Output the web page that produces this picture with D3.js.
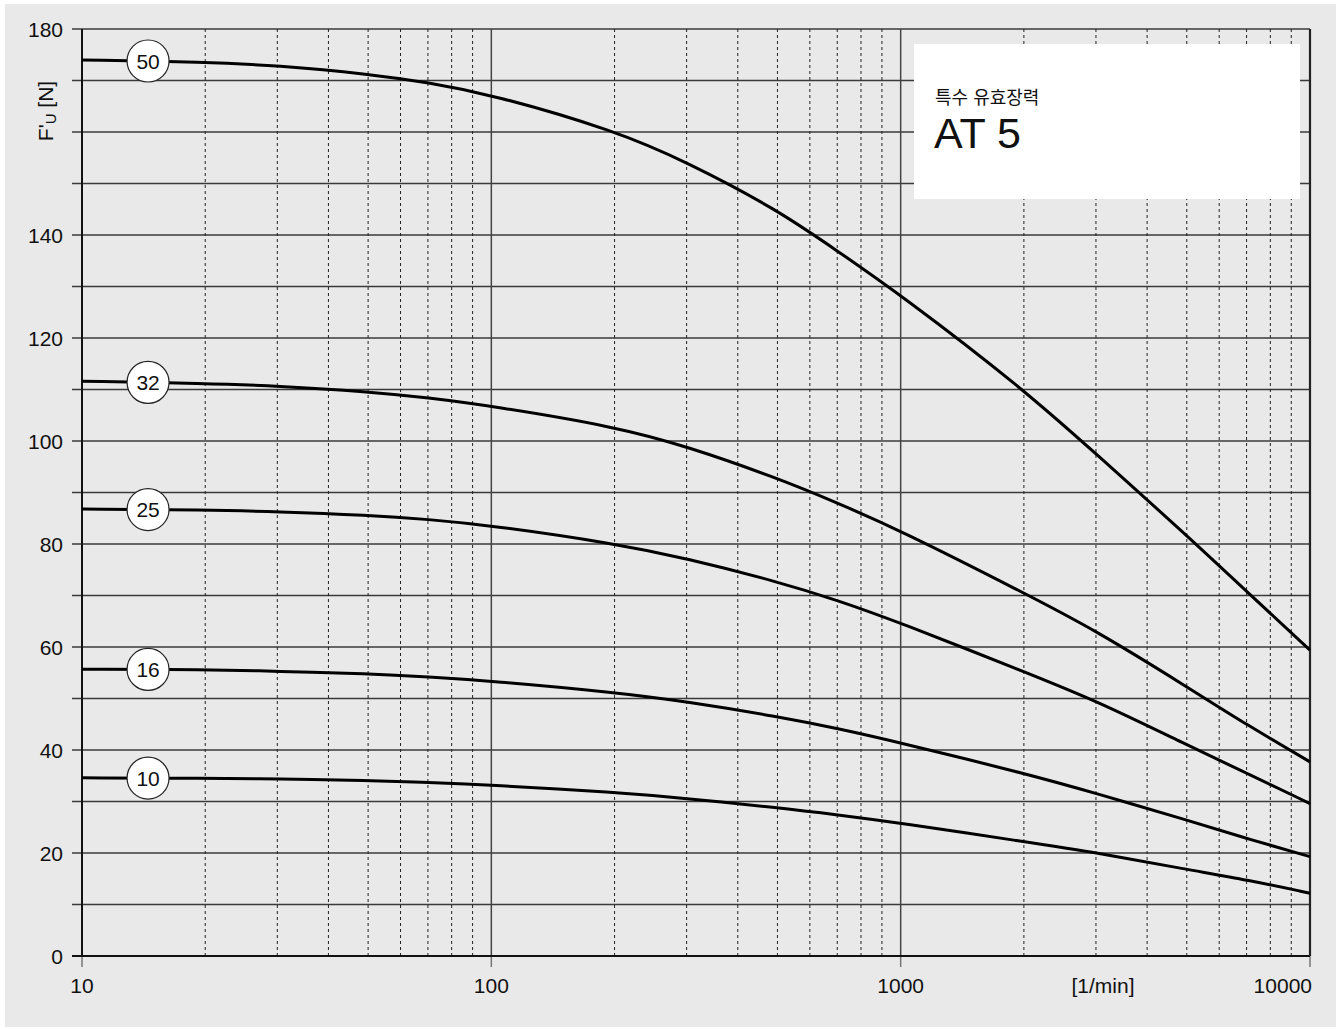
<!DOCTYPE html>
<html lang="ko">
<head>
<meta charset="UTF-8">
<title>AT 5</title>
<script src="https://d3js.org/d3.v7.min.js"></script>
<style>
  body { margin: 0; background: #fff; }
  text { font-family: "Liberation Sans", Arial, sans-serif; fill: #111; }
</style>
</head>
<body>
<script>
    // speed [1/min] and specific effective pull F'U [N] per belt width
    var rpm = [10, 20, 30, 50, 70, 100, 200, 300, 500, 700, 1000, 2000, 3000, 5000, 7000, 10000];
    var belt50 = [174.0, 173.6, 172.9, 171.3, 169.6, 167.3, 160.3, 154.2, 144.9, 136.9, 128.4, 110.0, 97.5, 81.7, 70.8, 59.4];
    var belt32 = [111.6, 111.2, 110.7, 109.6, 108.4, 106.8, 102.8, 99.0, 92.8, 88.0, 82.6, 70.5, 63.2, 52.3, 44.9, 37.7];
    var belt25 = [86.8, 86.6, 86.3, 85.6, 84.8, 83.6, 80.1, 77.2, 72.7, 69.1, 64.7, 55.2, 49.6, 41.0, 35.5, 29.6];
    var belt16 = [55.7, 55.6, 55.3, 54.8, 54.2, 53.4, 51.2, 49.4, 46.5, 44.2, 41.4, 35.5, 31.6, 26.4, 22.8, 19.3];
    var belt10 = [34.6, 34.5, 34.4, 34.1, 33.7, 33.2, 31.8, 30.6, 28.8, 27.4, 25.8, 22.2, 20.1, 16.8, 14.8, 12.2];
    var beltNames = ["50", "32", "25", "16", "10"];
    var yLabelTicks = [0, 20, 40, 60, 80, 100, 120, 140, 180];
    var xLabelTicks = [10, 100, 1000, 10000];
    var labelRpm = 14.5;

    var series = [belt50, belt32, belt25, belt16, belt10];

    var W = 1338, H = 1029;
    var svg = d3.select("body").append("svg")
        .attr("width", W)
        .attr("height", H);

    svg.append("rect")
        .attr("x", 5).attr("y", 4)
        .attr("width", 1331).attr("height", 1023)
        .attr("fill", "#e8e9e8");

    var x = d3.scaleLog().domain([10, 10000]).range([82, 1310]);
    var y = d3.scaleLinear().domain([0, 180]).range([956, 29]);

    // horizontal grid every 10 + little ticks left of the axis
    var hLines = d3.range(10, 181, 10);
    svg.append("g").selectAll("line")
        .data(hLines)
        .enter().append("line")
        .attr("x1", 72).attr("x2", 1310)
        .attr("y1", function (d) { return y(d); })
        .attr("y2", function (d) { return y(d); })
        .attr("stroke", "#3a3a3a")
        .attr("stroke-width", 1.3);

    // minor dashed verticals
    var minors = [];
    [10, 100, 1000].forEach(function (dec) {
        for (var k = 2; k <= 9; k++) minors.push(dec * k);
    });
    svg.append("g").selectAll("line")
        .data(minors)
        .enter().append("line")
        .attr("x1", function (d) { return x(d); })
        .attr("x2", function (d) { return x(d); })
        .attr("y1", y(180)).attr("y2", y(0))
        .attr("stroke", "#222")
        .attr("stroke-width", 1)
        .attr("stroke-dasharray", "3,3");

    // major verticals
    svg.append("g").selectAll("line")
        .data([100, 1000])
        .enter().append("line")
        .attr("x1", function (d) { return x(d); })
        .attr("x2", function (d) { return x(d); })
        .attr("y1", y(180)).attr("y2", y(0))
        .attr("stroke", "#444")
        .attr("stroke-width", 1.5);

    // x ticks below the axis
    svg.append("g").selectAll("line")
        .data(xLabelTicks)
        .enter().append("line")
        .attr("x1", function (d) { return x(d); })
        .attr("x2", function (d) { return x(d); })
        .attr("y1", y(0)).attr("y2", y(0) + 11)
        .attr("stroke", "#777")
        .attr("stroke-width", 1.5);

    // frame: left, right, bottom
    svg.append("line").attr("x1", 72).attr("x2", 1310).attr("y1", y(0)).attr("y2", y(0))
        .attr("stroke", "#111").attr("stroke-width", 2);
    svg.append("line").attr("x1", x(10)).attr("x2", x(10)).attr("y1", y(180)).attr("y2", y(0))
        .attr("stroke", "#111").attr("stroke-width", 2);
    svg.append("line").attr("x1", x(10000)).attr("x2", x(10000)).attr("y1", y(180)).attr("y2", y(0))
        .attr("stroke", "#222").attr("stroke-width", 2.2);

    // white caption box
    svg.append("rect")
        .attr("x", 914).attr("y", 44)
        .attr("width", 386).attr("height", 155)
        .attr("fill", "#fff");
    svg.append("text")
        .attr("x", 935).attr("y", 104)
        .style("font-family", "'Noto Sans CJK KR', sans-serif")
        .style("font-size", "18px")
        .text("특수 유효장력");
    svg.append("text")
        .attr("x", 934).attr("y", 148)
        .style("font-size", "43px")
        .text("AT 5");

    // y tick labels
    svg.append("g").selectAll("text")
        .data(yLabelTicks)
        .enter().append("text")
        .attr("x", 63)
        .attr("y", function (d) { return y(d); })
        .attr("dy", "0.36em")
        .attr("text-anchor", "end")
        .style("font-size", "21px")
        .text(function (d) { return d; });

    // x tick labels
    svg.append("g").selectAll("text")
        .data(xLabelTicks)
        .enter().append("text")
        .attr("x", function (d) { return d === 10000 ? x(d) + 2 : x(d); })
        .attr("y", 993)
        .attr("text-anchor", function (d) { return d === 10000 ? "end" : "middle"; })
        .style("font-size", "21px")
        .text(function (d) { return d; });

    svg.append("text")
        .attr("x", 1103).attr("y", 993)
        .attr("text-anchor", "middle")
        .style("font-size", "21px")
        .text("[1/min]");

    // y axis title F'U [N]
    var yt = svg.append("text")
        .attr("transform", "translate(53,111) rotate(-90)")
        .attr("text-anchor", "middle")
        .style("font-size", "21px");
    yt.append("tspan").text("F'");
    yt.append("tspan").attr("dy", 3).style("font-size", "15px").text("U");
    yt.append("tspan").attr("dy", -3).text(" [N]");

    // curves
    var line = d3.line()
        .x(function (d) { return x(d[0]); })
        .y(function (d) { return y(d[1]); })
        .curve(d3.curveBasis);

    svg.append("g").selectAll("path")
        .data(series)
        .enter().append("path")
        .attr("d", function (s) { return line(rpm.map(function (r, i) { return [r, s[i]]; })); })
        .attr("fill", "none")
        .attr("stroke", "#000")
        .attr("stroke-width", 3);

    // value on a curve at the label position (log interpolation)
    function valueAt(s, r) {
        var i = d3.bisectLeft(rpm, r);
        var t = (Math.log(r) - Math.log(rpm[i - 1])) / (Math.log(rpm[i]) - Math.log(rpm[i - 1]));
        return s[i - 1] + t * (s[i] - s[i - 1]);
    }

    var labels = svg.append("g").selectAll("g")
        .data(series)
        .enter().append("g")
        .attr("transform", function (s) {
            return "translate(" + x(labelRpm) + "," + y(valueAt(s, labelRpm)) + ")";
        });
    labels.append("circle")
        .attr("r", 21)
        .attr("fill", "#fff")
        .attr("stroke", "#222")
        .attr("stroke-width", 1.2);
    labels.append("text")
        .attr("text-anchor", "middle")
        .attr("dy", "0.36em")
        .style("font-size", "21px")
        .text(function (s, i) { return beltNames[i]; });
</script>
</body>
</html>
